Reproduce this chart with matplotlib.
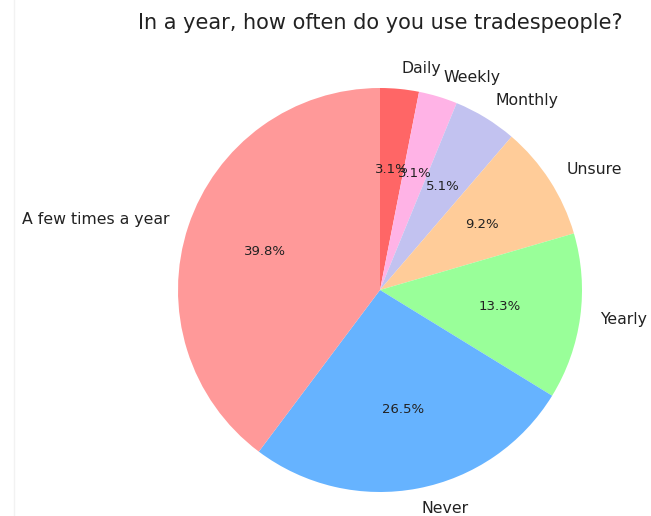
import matplotlib
matplotlib.use("Agg")
import matplotlib.pyplot as plt
from matplotlib.lines import Line2D

# survey answers, in the order drawn (clockwise from the top)
labels = ["Daily", "Weekly", "Monthly", "Unsure", "Yearly", "Never", "A few times a year"]
shares = [3.1, 3.1, 5.1, 9.2, 13.3, 26.5, 39.8]
colors = ["#ff6666", "#ffb3e6", "#c2c2f0", "#ffcc99", "#99ff99", "#66b3ff", "#ff9999"]

fig = plt.figure(figsize=(6.51, 5.16), dpi=100)
ax = fig.add_axes([127.5 / 651, -26.5 / 516, 505 / 651, 505 / 516])

wedges, texts, autotexts = ax.pie(
    shares,
    labels=labels,
    colors=colors,
    autopct="%1.1f%%",
    startangle=90,
    counterclock=False,
    textprops={"fontsize": 11.3, "color": "#222222"},
)
for t in autotexts:
    t.set_fontsize(9.5)
ax.set_aspect("equal")

# title sits above the pie
fig.text(380 / 651, 1 - 23 / 516, "In a year, how often do you use tradespeople?",
         ha="center", va="center", fontsize=15, color="#222222")

# faint edge left over from the original screenshot
fig.add_artist(Line2D([14 / 651, 14 / 651], [0, 1], color="#f2f2f2", lw=1,
                      transform=fig.transFigure))

fig.savefig("out.png", dpi=100)
